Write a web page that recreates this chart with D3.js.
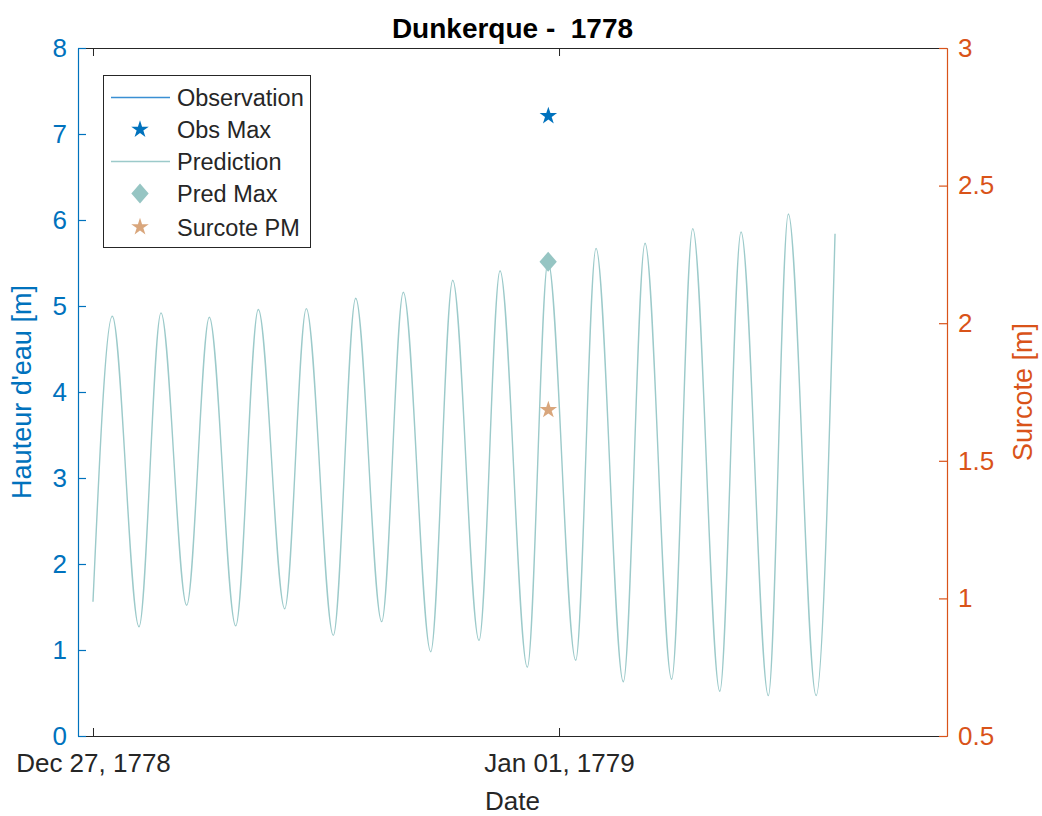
<!DOCTYPE html>
<html>
<head>
<meta charset="utf-8">
<script src="https://cdn.jsdelivr.net/npm/d3@7"></script>
<style>
  html, body { margin: 0; padding: 0; background: #fff; }
  svg { display: block; font-family: "Liberation Sans", Arial, Helvetica, sans-serif; }
</style>
</head>
<body>
<div id="chart"></div>
<script>
// ---------------- data ----------------
const title = "Dunkerque -  1778";
const startDate = "1778-12-27T00:00:00Z";
// prediction: hours after start and water level [m] (extrema)
const predHours = [0, 4.97, 11.85, 17.51, 24.13, 29.95, 36.75, 42.57, 49.37, 54.93,
  61.88, 67.65, 74.34, 79.91, 86.96, 92.63, 99.40, 104.81, 111.84, 117.17,
  124.30, 129.53, 136.56, 142.15, 149.00, 154.43, 161.40, 166.87, 173.90, 179.05,
  186.20, 191.07];
const predLevels = [1.56, 4.88, 1.27, 4.92, 1.52, 4.87, 1.28, 4.96, 1.48, 4.97,
  1.17, 5.09, 1.33, 5.16, 0.98, 5.30, 1.11, 5.41, 0.80, 5.52,
  0.88, 5.67, 0.63, 5.73, 0.66, 5.90, 0.52, 5.86, 0.47, 6.07,
  0.47, 5.84];
const obsMaxHour = [117.25];
const obsMaxLevel = [7.21];
const predMaxHour = [117.2];
const predMaxLevel = [5.515];
const surcoteHour = [117.25];
const surcoteValue = [1.685];
const xDomainHours = [-3.86, 219.9];
const xTickLabelsDates = ["1778-12-27T00:00:00Z", "1779-01-01T00:00:00Z"];
const leftTicks = [0, 1, 2, 3, 4, 5, 6, 7, 8];
const rightTicks = [0.5, 1, 1.5, 2, 2.5, 3];
const legendLabels = ["Observation", "Obs Max", "Prediction", "Pred Max", "Surcote PM"];

// ---------------- layout ----------------
const W = 1042, H = 816;
const L = 78, R = 947, T = 48, B = 736;
const blue = "#0072BD", orange = "#D95319", dark = "#262626";
const teal = "#9ccaca", tealMark = "#96c5c3", tan = "#d9a67c";

const base = new Date(startDate);
const hToDate = h => new Date(base.getTime() + h * 3600 * 1000);

const svg = d3.select("#chart").append("svg").attr("width", W).attr("height", H);

const x = d3.scaleUtc().domain(xDomainHours.map(hToDate)).range([L, R]);
const yL = d3.scaleLinear().domain([0, 8]).range([B, T]);
const yR = d3.scaleLinear().domain([0.5, 3]).range([B, T]);

svg.append("clipPath").attr("id", "clip")
  .append("rect").attr("x", L).attr("y", T).attr("width", R - L).attr("height", B - T);

// prediction line
const predData = predHours.map((h, i) => ({ d: hToDate(h), v: predLevels[i] }));
const line = d3.line().x(p => x(p.d)).y(p => yL(p.v)).curve(d3.curveMonotoneX);
svg.append("path").datum(predData)
  .attr("clip-path", "url(#clip)")
  .attr("fill", "none").attr("stroke", teal).attr("stroke-width", 1.4)
  .attr("d", line);

// diamond symbol (MATLAB style)
const diamondType = {
  draw(ctx, size) {
    const r = Math.sqrt(size) / 2;
    ctx.moveTo(0, -r * 1.15); ctx.lineTo(r, 0); ctx.lineTo(0, r * 1.15); ctx.lineTo(-r, 0); ctx.closePath();
  }
};
const starSym = d3.symbol().type(d3.symbolStar).size(95);
const diamondSym = d3.symbol().type(diamondType).size(300);

// Pred max
svg.selectAll(".pmax").data(predMaxHour).join("path")
  .attr("transform", (h, i) => `translate(${x(hToDate(h))},${yL(predMaxLevel[i])})`)
  .attr("d", diamondSym()).attr("fill", tealMark);
// Obs max
svg.selectAll(".omax").data(obsMaxHour).join("path")
  .attr("transform", (h, i) => `translate(${x(hToDate(h))},${yL(obsMaxLevel[i])})`)
  .attr("d", starSym()).attr("fill", blue);
// Surcote (right axis)
svg.selectAll(".sur").data(surcoteHour).join("path")
  .attr("transform", (h, i) => `translate(${x(hToDate(h))},${yR(surcoteValue[i])})`)
  .attr("d", starSym()).attr("fill", tan);

// ---------------- axes ----------------
const tickDates = xTickLabelsDates.map(s => new Date(s));
const fmt = d3.utcFormat("%b %d, %Y");
const tickFont = 26;

// bottom axis
const xAxisB = d3.axisBottom(x).tickValues(tickDates).tickFormat(fmt).tickSizeInner(-8).tickSizeOuter(0).tickPadding(18);
const gB = svg.append("g").attr("transform", `translate(0,${B})`).call(xAxisB);
gB.select(".domain").attr("stroke", dark).attr("stroke-width", 1.2);
gB.selectAll(".tick line").attr("stroke", dark);
gB.selectAll(".tick text").attr("fill", dark).attr("font-size", tickFont).attr("font-family", "Liberation Sans, Arial, sans-serif");

// top axis (box)
const xAxisT = d3.axisTop(x).tickValues(tickDates).tickFormat("").tickSizeInner(-8).tickSizeOuter(0);
const gT = svg.append("g").attr("transform", `translate(0,${T})`).call(xAxisT);
gT.select(".domain").attr("stroke", dark).attr("stroke-width", 1.2);
gT.selectAll(".tick line").attr("stroke", dark);

// left axis
const yAxisL = d3.axisLeft(yL).tickValues(leftTicks).tickFormat(d3.format("d")).tickSizeInner(-8).tickSizeOuter(0).tickPadding(11);
const gL = svg.append("g").attr("transform", `translate(${L},0)`).call(yAxisL);
gL.select(".domain").attr("stroke", blue).attr("stroke-width", 1.2);
gL.selectAll(".tick line").attr("stroke", blue).attr("stroke-width", 1.2);
gL.selectAll(".tick text").attr("fill", blue).attr("font-size", tickFont).attr("font-family", "Liberation Sans, Arial, sans-serif");

// right axis
const yAxisR = d3.axisRight(yR).tickValues(rightTicks).tickFormat(d => (d % 1 === 0 ? d3.format("d")(d) : d3.format(".1f")(d))).tickSizeInner(-8).tickSizeOuter(0).tickPadding(11);
const gR = svg.append("g").attr("transform", `translate(${R},0)`).call(yAxisR);
gR.select(".domain").attr("stroke", orange).attr("stroke-width", 1.2);
gR.selectAll(".tick line").attr("stroke", orange).attr("stroke-width", 1.2);
gR.selectAll(".tick text").attr("fill", orange).attr("font-size", tickFont).attr("font-family", "Liberation Sans, Arial, sans-serif");

// labels
svg.append("text").attr("x", (L + R) / 2).attr("y", 38).attr("text-anchor", "middle")
  .style("white-space", "pre").attr("xml:space", "preserve")
  .attr("font-size", 28).attr("font-weight", "bold").attr("fill", "#000").text(title);
svg.append("text").attr("x", (L + R) / 2).attr("y", 810).attr("text-anchor", "middle")
  .attr("font-size", 26).attr("fill", dark).text("Date");
svg.append("text").attr("transform", `translate(31,${(T + B) / 2}) rotate(-90)`).attr("text-anchor", "middle")
  .attr("font-size", 27).attr("fill", blue).text("Hauteur d'eau [m]");
svg.append("text").attr("transform", `translate(1032,${(T + B) / 2}) rotate(-90)`).attr("text-anchor", "middle")
  .attr("font-size", 27).attr("fill", orange).text("Surcote [m]");

// ---------------- legend ----------------
const lg = svg.append("g");
lg.append("rect").attr("x", 103.5).attr("y", 75.5).attr("width", 207).attr("height", 172)
  .attr("fill", "#fff").attr("stroke", dark).attr("stroke-width", 1);
const rowY = [97.5, 129.5, 161.5, 193.5, 227];
const legendKinds = ["line", "star", "line", "diamond", "star"];
const legendColors = [blue, blue, teal, tealMark, tan];
legendLabels.forEach((lab, i) => {
  const cy = rowY[i];
  if (legendKinds[i] === "line") {
    lg.append("line").attr("x1", 111).attr("x2", 170).attr("y1", cy).attr("y2", cy)
      .attr("stroke", i === 0 ? "#3a8fd3" : teal).attr("stroke-width", 1.4);
  } else if (legendKinds[i] === "star") {
    lg.append("path").attr("transform", `translate(140,${cy})`).attr("d", starSym()).attr("fill", legendColors[i]);
  } else {
    lg.append("path").attr("transform", `translate(140,${cy})`).attr("d", diamondSym()).attr("fill", legendColors[i]);
  }
  lg.append("text").attr("x", 177).attr("y", cy + 8.5).attr("font-size", 23.5).attr("fill", dark).text(lab);
});
</script>
</body>
</html>
